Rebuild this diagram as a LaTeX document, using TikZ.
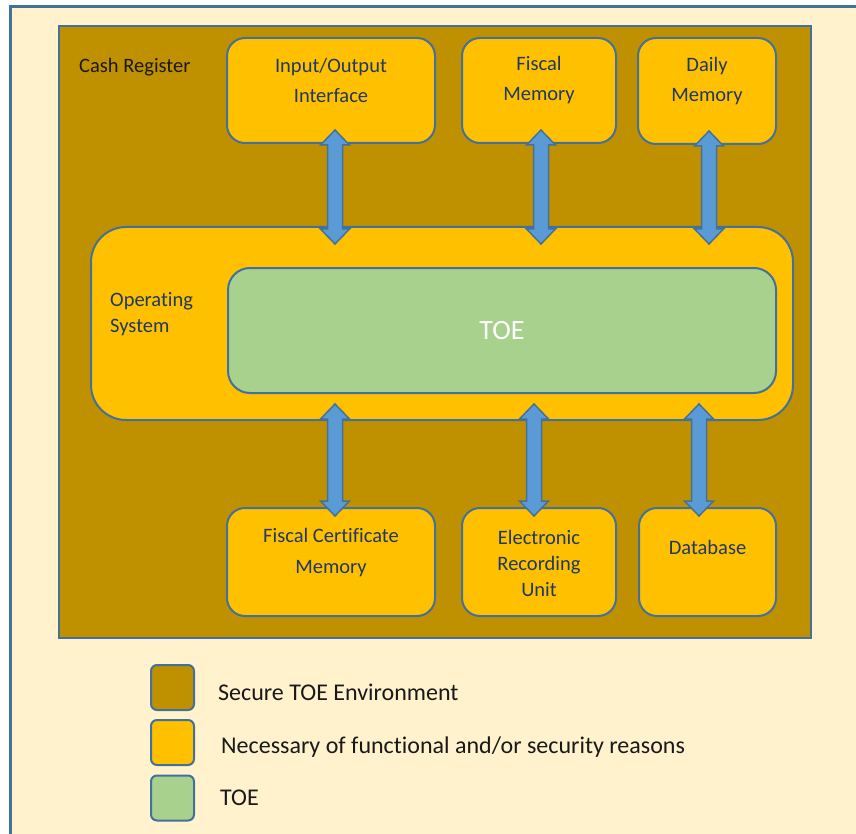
\documentclass[tikz,border=0pt]{standalone}
\usepackage{fontspec}
\setmainfont{Carlito}[Ligatures=CommonOff]
\usetikzlibrary{calc}
\definecolor{frameblue}{HTML}{41719C}
\definecolor{paper}{HTML}{FFF2CC}
\definecolor{envgold}{HTML}{BF9000}
\definecolor{unitorange}{HTML}{FFC000}
\definecolor{toegreen}{HTML}{A9D18E}
\definecolor{arrowblue}{HTML}{5B9BD5}
\definecolor{labelnavy}{HTML}{203864}
\def \headw {14.5pt}
\def \shaftw {7.5pt}
\def \headl {15pt}
\newcommand{\blockarrow}[2]{%
  \draw[blockarrow] let \p1=(#1), \p2=(#2) in
    (\x1,\y1) -- (\x1+\headw,\y1-\headl) -- (\x1+\shaftw,\y1-\headl)
    -- (\x1+\shaftw,\y2+\headl) -- (\x1+\headw,\y2+\headl) -- (\x1,\y2)
    -- (\x1-\headw,\y2+\headl) -- (\x1-\shaftw,\y2+\headl)
    -- (\x1-\shaftw,\y1-\headl) -- (\x1-\headw,\y1-\headl) -- cycle;}
\tikzstyle{paperframe}=[rectangle, draw=frameblue, line width=2.5pt, fill=paper, inner sep=0pt]
\tikzstyle{envbox}=[rectangle, draw=frameblue, line width=2pt, fill=envgold, inner sep=0pt]
\tikzstyle{unit}=[rectangle, rounded corners=18pt, draw=frameblue, line width=2pt, fill=unitorange, inner sep=0pt]
\tikzstyle{osbox}=[unit, rounded corners=35pt]
\tikzstyle{toebox}=[unit, rounded corners=22pt, fill=toegreen]
\tikzstyle{unittext}=[text=labelnavy, font=\fontsize{20.5}{26}\selectfont, align=center, inner sep=0pt]
\tikzstyle{crtext}=[text=black!90, font=\fontsize{20.5}{26}\selectfont, inner sep=0pt]
\tikzstyle{toetext}=[text=white, font=\fontsize{28}{34}\selectfont, inner sep=0pt]
\tikzstyle{keybox}=[rectangle, rounded corners=6pt, draw=frameblue, line width=2pt, minimum width=43pt, minimum height=45pt, inner sep=0pt]
\tikzstyle{keytext}=[text=black!90, font=\fontsize{24}{29}\selectfont, inner sep=0pt, anchor=west]
\tikzstyle{blockarrow}=[draw=frameblue, fill=arrowblue, line width=1.5pt, line join=miter]

\begin{document}
\begin{tikzpicture}[x=1pt, y=-1pt]

\useasboundingbox (0,0) rectangle (856,834);
\clip (0,0) rectangle (856,834);

\node[paperframe, minimum width=900pt, minimum height=900pt, anchor=north west] (frame) at (9,5.5) {};
\node[envbox, minimum width=752pt, minimum height=612pt, anchor=north west] (cr) at (58,25) {};
\node[crtext, anchor=west] (crt) at (79,67) {Cash Register};

\node[unit, minimum width=208pt, minimum height=105pt, anchor=north] (io) at (331,37) {};
\node[unit, minimum width=154pt, minimum height=105pt, anchor=north] (fm) at (539,37) {};
\node[unit, minimum width=138pt, minimum height=106pt, anchor=north] (dm) at (707,37) {};
\node[unittext] (iot) at (331,80.5) {Input/Output\\[4pt]Interface};
\node[unittext] (fmt) at (539,80.5) {Fiscal\\[4pt]Memory};
\node[unittext] (dmt) at (707,81) {Daily\\[4pt]Memory};

\node[osbox, minimum width=702pt, minimum height=193pt, anchor=north west] (os) at (90,226) {};
\node[unittext, align=left, anchor=west] (ost) at (110,314) {Operating\\System};
\node[toebox, minimum width=548pt, minimum height=125pt, anchor=north west] (toe) at (227,267) {};
\node[toetext] (toet) at (toe.center) {TOE};

\node[unit, minimum width=208pt, minimum height=108pt, anchor=north] (fc) at (331,507) {};
\node[unit, minimum width=154pt, minimum height=108pt, anchor=north] (eru) at (539,507) {};
\node[unit, minimum width=137pt, minimum height=108pt, anchor=north] (db) at (707.5,507) {};
\node[unittext] (fct) at (331,552.5) {Fiscal Certificate\\[5pt]Memory};
\node[unittext] (erut) at (539,563) {Electronic\\Recording\\Unit};
\node[unittext] (dbt) at (707.5,547) {Database};

\foreach \u/\dx [count=\i] in {io/4, fm/2, dm/2} {
  \coordinate (ta\i) at ($(\u.south)+(\dx,-14)$);
  \coordinate (ba\i) at ($(os.north -| ta\i)+(0,18)$);
  \blockarrow{ta\i}{ba\i}
}
\foreach \u/\dx [count=\i] in {fc/4, eru/-5, db/-8.5} {
  \coordinate (bb\i) at ($(\u.north)+(\dx,9)$);
  \coordinate (tb\i) at ($(toe.south -| bb\i)+(0,10)$);
  \blockarrow{tb\i}{bb\i}
}

\node[keybox, fill=envgold] (k1) at (172.5,687.5) {};
\node[keybox, fill=unitorange] (k2) at (172.5,742.5) {};
\node[keybox, fill=toegreen] (k3) at (172.5,798) {};
\node[keytext] (k1t) at (218,692) {Secure TOE Environment};
\node[keytext] (k2t) at (221,747) {Necessary of functional and/or security reasons};
\node[keytext] (k3t) at (220,798) {TOE};

\end{tikzpicture}
\end{document}
